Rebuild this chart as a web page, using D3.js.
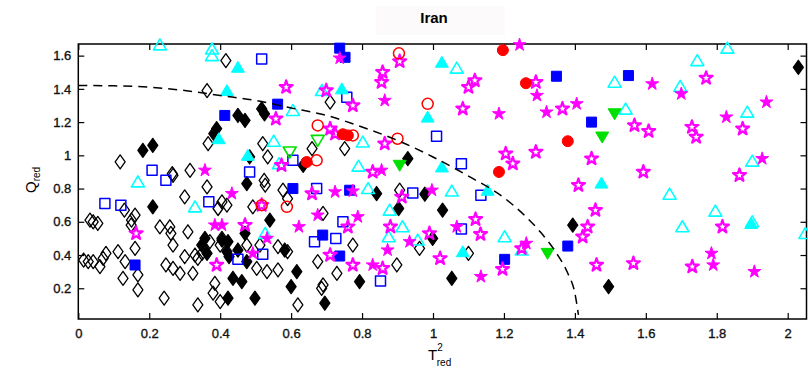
<!DOCTYPE html>
<html>
<head>
<meta charset="utf-8">
<script src="https://cdn.jsdelivr.net/npm/d3@7/dist/d3.min.js"></script>
<style>
  html, body { margin: 0; padding: 0; background: #fff; }
  svg { display: block; }
  .tick text { font-family: "Liberation Sans Narrow", "Liberation Sans", Arial, sans-serif; font-size: 13px; fill: #111; stroke: #111; stroke-width: 0.35px; }
</style>
</head>
<body>
<svg id="chart" width="808" height="368"></svg>
<script>
// ---- Data: [T2_red, Q_red] pairs for each class ----
const blackOpen = [
  [0.416,1.57],[0.363,1.39],[0.366,1.07],[0.118,0.96],[0.52,1.07],[0.534,0.99],[0.659,1.04],
  [0.265,0.89],[0.315,0.91],[0.524,0.85],[0.71,1.32],[0.751,1.04],
  [0.16,0.64],[0.149,0.58],[0.042,0.60],[0.055,0.59],[0.033,0.61],[0.112,0.42],[0.16,0.44],
  [0.028,0.36],[0.042,0.36],[0.015,0.37],[0.07,0.38],[0.078,0.41],[0.061,0.33],[0.132,0.36],
  [0.126,0.26],[0.168,0.28],[0.168,0.19],[0.242,0.14],[0.23,0.57],[0.258,0.57],[0.261,0.53],
  [0.267,0.46],[0.30,0.75],[0.309,0.54],[0.30,0.39],[0.329,0.40],[0.247,0.34],[0.267,0.32],
  [0.287,0.29],[0.323,0.29],[0.337,0.10],[0.267,0.88],[0.13,0.67],[0.15,0.61],
  [0.363,0.81],[0.527,0.82],[0.577,0.79],[0.59,0.74],[0.405,0.72],[0.419,0.70],[0.394,0.68],
  [0.492,0.69],[0.349,0.41],[0.337,0.38],[0.371,0.48],[0.405,0.50],[0.40,0.46],[0.475,0.46],
  [0.512,0.46],[0.563,0.45],[0.59,0.42],[0.503,0.32],[0.532,0.30],[0.563,0.31],[0.385,0.23],
  [0.38,0.17],[0.40,0.12],[0.675,0.36],[0.686,0.20],[0.619,0.10],[0.906,0.79],[0.962,0.44],
  [0.898,0.34],[0.774,0.46],[0.729,0.29],[0.69,0.22],[0.69,0.65],[1.10,0.41]
];
const blackFilled = [
  [2.03,1.53],[1.394,0.58],[1.495,0.21],[0.841,0.77],[0.977,0.766],[0.903,0.68],[1.027,0.67],
  [0.999,0.50],[0.793,0.24],[1.053,0.26],[0.695,0.11],[0.929,0.98],[0.45,1.24],[0.47,1.21],
  [0.517,1.28],[0.525,1.25],[0.182,1.03],[0.21,1.06],[0.382,1.13],[0.39,1.16],[0.483,0.99],
  [0.634,0.94],[0.475,0.83],[0.54,0.61],[0.47,0.53],[0.357,0.50],[0.348,0.46],[0.422,0.48],
  [0.419,0.42],[0.582,0.43],[0.616,0.30],[0.60,0.21],[0.436,0.26],[0.461,0.24],[0.422,0.14],
  [0.498,0.14],[0.475,0.36],[0.21,0.69],[0.405,0.49],[0.425,0.39],[0.363,0.41],[0.45,0.43]
];
const blueOpen = [
  [0.517,1.58],[0.757,1.35],[1.01,1.115],[1.08,0.95],[0.943,0.773],[1.135,0.76],[0.746,0.60],
  [0.726,0.50],[0.852,0.243],[1.08,0.556],[0.672,0.80],[0.666,0.48],[0.52,0.405],[0.45,0.375],
  [0.483,0.90],[0.368,0.72],[0.075,0.71],[0.12,0.70],[0.208,0.91],[0.247,0.85],[0.605,0.97]
];
const blueFilled = [
  [0.737,1.645],[0.752,1.59],[1.348,1.476],[1.551,1.48],[1.447,1.20],[1.38,0.454],[1.202,0.374],
  [0.737,0.394],[0.689,0.52],[0.765,0.79],[0.562,1.308],[0.413,1.24],[0.605,0.80],[0.16,0.34]
];
const cyanOpen = [
  [0.23,1.665],[0.377,1.64],[0.377,1.60],[0.605,1.27],[0.551,1.085],[0.687,1.39],[0.566,0.95],
  [0.168,0.84],[0.329,0.69],[0.527,0.53],[1.067,1.525],[0.802,1.08],[0.79,0.935],[0.817,0.80],
  [1.053,0.785],[0.878,0.67],[0.914,0.57],[0.875,0.51],[0.957,0.49],[1.202,0.51],[1.25,0.43],
  [1.83,1.645],[1.745,1.57],[1.512,1.44],[1.697,1.415],[1.543,1.278],[1.886,1.26],[1.90,0.965],
  [1.667,0.766],[1.796,0.664],[1.703,0.57],[2.05,0.53],[1.90,0.60]
];
const cyanFilled = [
  [1.025,1.56],[0.743,1.40],[0.985,1.23],[1.025,0.93],[1.154,0.79],[1.084,0.42],[1.475,0.833],
  [1.897,0.59],[0.45,1.53],[0.419,1.39],[0.396,1.10],[0.478,1.00]
];
const magentaOpen = [
  [1.77,1.465],[1.365,1.28],[1.568,1.18],[1.608,1.145],[1.73,1.17],[1.742,1.11],[1.873,1.16],
  [1.447,0.98],[1.593,0.90],[1.864,0.88],[1.41,0.82],[1.458,0.67],[1.436,0.57],[1.422,0.51],
  [1.816,0.57],[1.731,0.33],[1.565,0.35],[1.461,0.34],[0.906,1.565],[0.858,1.50],[0.855,1.44],
  [1.118,1.45],[1.10,1.41],[0.774,1.30],[0.699,1.39],[1.084,1.28],[1.29,1.44],[0.864,1.07],
  [0.71,1.16],[0.724,1.13],[1.205,1.01],[1.225,0.95],[1.29,1.02],[0.83,0.90],[0.76,0.57],
  [0.912,0.75],[0.88,0.57],[0.71,0.40],[0.774,0.34],[0.858,0.32],[1.02,0.38],[1.12,0.615],
  [1.134,0.525],[0.99,0.53],[1.25,0.44],[1.196,0.315],[0.586,1.41],[0.557,1.22],[0.573,0.94],
  [0.163,0.53],[0.47,0.58],[0.517,0.70],[0.39,0.34],[0.659,0.77]
];
const magentaFilled = [
  [1.618,1.43],[1.70,1.37],[1.405,1.31],[1.827,1.23],[1.94,1.32],[1.928,0.98],[1.785,0.41],
  [1.79,0.34],[1.906,0.30],[1.244,1.665],[0.737,1.585],[0.864,1.33],[1.186,1.25],[1.293,1.36],
  [1.32,1.26],[0.855,0.91],[0.724,0.78],[0.774,0.785],[0.788,0.63],[0.997,0.79],[0.934,0.48],
  [0.872,0.43],[0.83,0.34],[1.067,0.57],[1.135,0.27],[1.263,0.47],[0.357,0.91],[0.433,0.77],
  [0.385,0.58],[0.405,0.58],[0.532,0.50],[0.492,0.41],[0.622,0.57],[0.675,0.64]
];
const redOpen = [
  [0.904,1.614],[0.985,1.31],[0.90,1.10],[0.774,1.12],[0.675,1.18],[0.672,0.97],[0.588,0.69],[0.517,0.70]
];
const redFilled = [
  [1.197,1.633],[1.262,1.434],[0.746,1.127],[0.76,1.12],[1.186,0.90],[1.38,1.085],[0.644,0.96]
];
const greenOpen = [[0.675,1.09],[0.596,1.02]];
const greenFilled = [[0.906,0.94],[1.323,0.41],[1.512,1.25],[1.477,1.11]];

// Control limit boundary (dashed)
const limitCurve = [
  [0,1.42],[0.1,1.418],[0.2,1.41],[0.3,1.39],[0.4,1.36],[0.5,1.33],[0.6,1.285],[0.7,1.24],
  [0.8,1.17],[0.9,1.09],[1.0,0.99],[1.1,0.875],[1.2,0.745],[1.25,0.655],[1.3,0.545],
  [1.35,0.405],[1.38,0.29],[1.40,0.17],[1.41,0.04]
];

const xTicks = [0,0.2,0.4,0.6,0.8,1,1.2,1.4,1.6,1.8,2];
const xTickLabels = ["0","0.2","0.4","0.6","0.8","1","1.2","1.4","1.6","1.8","2"];
const yTicks = [0.2,0.4,0.6,0.8,1,1.2,1.4,1.6];
const yTickLabels = ["0.2","0.4","0.6","0.8","1","1.2","1.4","1.6"];

// ---- Layout ----
const svg = d3.select("#chart");
const plotL = 78.3, plotR = 806.5, plotT = 44, plotB = 319;
const x = d3.scaleLinear().domain([0, 2.053]).range([plotL, plotR]);
const y = d3.scaleLinear().domain([0.015, 1.67]).range([plotB, plotT]);

// Title with its faint backdrop
svg.append("rect").attr("x", 376).attr("y", 6).attr("width", 129).attr("height", 29)
  .attr("fill", "#fdfafb");
svg.append("text").attr("x", 434).attr("y", 23).attr("text-anchor", "middle")
  .attr("font-family", "'Liberation Sans Narrow', 'Liberation Sans', Arial, sans-serif")
  .attr("font-weight", "bold").attr("font-size", 15).text("Iran");

// Axes (box with inward ticks)
const tick = 6;
const gx = svg.append("g").attr("transform", `translate(0,${plotB})`)
  .call(d3.axisBottom(x).tickValues(xTicks).tickFormat((d, i) => xTickLabels[i])
    .tickSizeInner(-tick).tickSizeOuter(0).tickPadding(10));
const gxt = svg.append("g").attr("transform", `translate(0,${plotT})`)
  .call(d3.axisTop(x).tickValues(xTicks).tickFormat("").tickSizeInner(-tick).tickSizeOuter(0));
const gy = svg.append("g").attr("transform", `translate(${plotL},0)`)
  .call(d3.axisLeft(y).tickValues(yTicks).tickFormat((d, i) => yTickLabels[i])
    .tickSizeInner(-tick).tickSizeOuter(0).tickPadding(7));
const gyr = svg.append("g").attr("transform", `translate(${plotR},0)`)
  .call(d3.axisRight(y).tickValues(yTicks).tickFormat("").tickSizeInner(-tick).tickSizeOuter(0));
[gx, gxt, gy, gyr].forEach(g => {
  g.select(".domain").remove();
  g.selectAll(".tick line").attr("stroke", "#000").attr("stroke-width", 1.2);
});
svg.append("rect").attr("x", plotL).attr("y", plotT).attr("width", plotR - plotL).attr("height", plotB - plotT)
  .attr("fill", "none").attr("stroke", "#000").attr("stroke-width", 1.5);

// Axis labels
const lblFont = "'Liberation Sans', Arial, sans-serif";
const xl = svg.append("text").attr("x", 428).attr("y", 360).attr("font-family", lblFont).attr("font-size", 15);
xl.append("tspan").text("T");
xl.append("tspan").attr("font-size", 10).attr("dy", -9).attr("dx", 0).text("2");
xl.append("tspan").attr("font-size", 10).attr("dx", -6).attr("dy", 15).text("red");

const yl = svg.append("text").attr("transform", "translate(36,193) rotate(-90)")
  .attr("font-family", lblFont).attr("font-size", 15);
yl.append("tspan").text("Q");
yl.append("tspan").attr("font-size", 10).attr("dy", 4).text("red");

// ---- Marker shapes ----
const shapes = {
  diamond: "M0,-7L5,0L0,7L-5,0Z",
  square: "M-5,-5H5V5H-5Z",
  triUp: "M0,-6L6.5,5L-6.5,5Z",
  triDown: "M0,6L6.5,-5L-6.5,-5Z",
  circle: d3.symbol(d3.symbolCircle, 95)(),
  star: d3.symbol(d3.symbolStar, 52)()
};

function drawSeries(data, shape, color, filled, sw) {
  svg.append("g").selectAll("path").data(data).join("path")
    .attr("d", shapes[shape])
    .attr("transform", d => `translate(${x(d[0])},${y(d[1])})`)
    .attr("fill", filled ? color : "none")
    .attr("stroke", color)
    .attr("stroke-width", sw)
    .attr("stroke-linejoin", "round");
}

drawSeries(blackOpen, "diamond", "#000", false, 1.3);
drawSeries(blackFilled, "diamond", "#000", true, 1.3);
drawSeries(blueOpen, "square", "#0000ff", false, 1.5);
drawSeries(blueFilled, "square", "#0000ff", true, 1);
drawSeries(cyanOpen, "triUp", "#00ffff", false, 1.6);
drawSeries(cyanFilled, "triUp", "#00ffff", true, 1);
drawSeries(magentaOpen, "star", "#ff00ff", false, 2.2);
drawSeries(magentaFilled, "star", "#ff00ff", true, 1);
drawSeries(redOpen, "circle", "#ff0000", false, 1.5);
drawSeries(redFilled, "circle", "#ff0000", true, 1);
drawSeries(greenOpen, "triDown", "#00e000", false, 1.6);
drawSeries(greenFilled, "triDown", "#00e000", true, 1);

// Dashed control limit
svg.append("path").datum(limitCurve)
  .attr("d", d3.line().x(d => x(d[0])).y(d => y(d[1])).curve(d3.curveMonotoneX))
  .attr("fill", "none").attr("stroke", "#000").attr("stroke-width", 1.5)
  .attr("stroke-dasharray", "9,6");
</script>
</body>
</html>
